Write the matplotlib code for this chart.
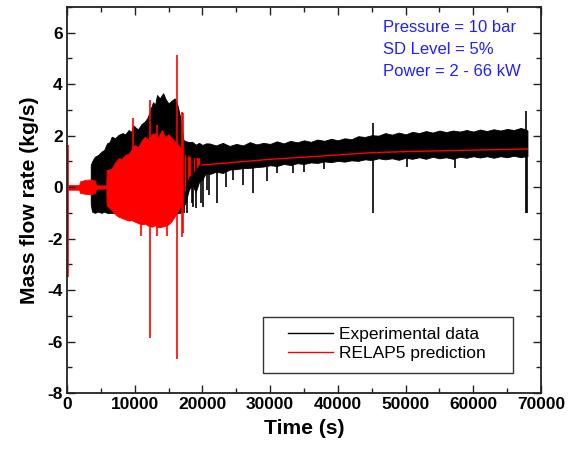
import matplotlib
matplotlib.use("Agg")
import matplotlib.pyplot as plt
from matplotlib.lines import Line2D
from matplotlib.patches import Rectangle

plt.rcParams['font.family'] = ['Liberation Sans', 'DejaVu Sans']
plt.rcParams['axes.unicode_minus'] = False

# ---------------- data ----------------
# Experimental data: oscillation envelope (time, upper, lower)
exp_t = [3500, 3700, 4100, 4600, 5100, 5500, 5900, 6300, 6600, 7100, 7600, 8200,
         8600, 9100, 9500, 9800, 10200, 10500, 11000, 11500, 11900, 12300, 12700,
         13000, 13300, 13700, 14200, 14600, 15000, 15400, 15900, 16300, 16700,
         17000, 17200, 17600, 18000, 18500, 19000, 19500, 20000, 20500, 21000,
         22000, 23000, 24000, 25000, 26000, 27000, 28000, 29000, 30000, 31000,
         32000, 33000, 34000, 35000, 36000, 37000, 38000, 39000, 40000, 41000,
         42000, 43000, 44000, 45000, 46000, 47000, 48000, 49000, 50000, 51000,
         52000, 53000, 54000, 55000, 56000, 57000, 58000, 59000, 60000, 61000,
         62000, 63000, 64000, 65000, 66000, 67000, 67700, 68000]
exp_hi = [0.85, 1.0, 1.18, 1.25, 1.38, 1.45, 1.7, 1.75, 1.96, 1.9, 2.03, 2.1,
          2.05, 2.22, 2.15, 2.4, 2.3, 2.25, 2.45, 2.55, 2.7, 3.0, 3.3,
          3.2, 3.58, 3.45, 3.65, 3.4, 3.25, 3.35, 3.45, 3.2, 2.74,
          2.2, 1.83, 1.78, 1.75, 1.76, 1.65, 1.72, 1.64, 1.7, 1.7,
          1.62, 1.72, 1.6, 1.68, 1.62, 1.75, 1.66, 1.72, 1.68, 1.78,
          1.7, 1.8, 1.74, 1.82, 1.76, 1.85, 1.8, 1.88, 1.82, 1.9,
          1.86, 1.98, 1.95, 2.02, 2.0, 2.1, 2.04, 2.12, 2.05, 2.15,
          2.1, 2.18, 2.12, 2.2, 2.14, 2.2, 2.16, 2.22, 2.16, 2.24,
          2.18, 2.25, 2.2, 2.26, 2.22, 2.3, 2.25, 2.2]
exp_lo = [-0.65, -0.95, -1.0, -0.95, -1.0, -0.95, -1.0, -1.0, -1.0, -1.0, -1.0, -1.0,
          -1.0, -1.0, -1.0, -1.0, -1.0, -1.0, -1.0, -1.0, -1.0, -1.0, -1.0,
          -1.0, -1.0, -1.0, -1.0, -1.0, -1.0, -1.0, -1.0, -1.0, -1.0,
          -0.9, -0.8, -0.5, -0.1, 0.1, -0.2, 0.2, 0.3, 0.55, 0.5,
          0.6, 0.55, 0.68, 0.7, 0.74, 0.75, 0.78, 0.8, 0.85, 0.82,
          0.9, 0.86, 0.93, 0.9, 0.96, 0.94, 1.0, 0.97, 1.02, 0.99,
          1.04, 1.02, 1.08, 1.05, 1.12, 1.08, 1.12, 1.06, 1.14, 1.1,
          1.16, 1.1, 1.18, 1.12, 1.16, 1.1, 1.18, 1.14, 1.2, 1.15,
          1.2, 1.14, 1.2, 1.16, 1.22, 1.16, 1.2, 1.2]
# Experimental spikes (time, low, high)
exp_spk_t = [17300, 17700, 18400, 18650, 19000, 19800, 20040, 20630, 21000, 22100,
             23500, 24560, 26000, 27500, 29500, 30970, 33400, 35000, 38000, 45240,
             50170, 57300, 67800, 67950]
exp_spk_lo = [-1.0, -1.0, -0.6, -0.76, -0.8, -0.6, -0.76, -0.11, -0.3, -0.6,
              0.0, 0.27, 0.1, -0.24, 0.25, 0.55, 0.54, 0.6, 0.7, -1.0,
              0.79, 0.73, -1.0, -1.0]
exp_spk_hi = [1.5, 1.6, 1.6, 1.6, 1.6, 1.6, 1.6, 1.6, 1.6, 1.6,
              1.6, 1.6, 1.6, 1.6, 1.6, 1.7, 1.7, 1.75, 1.8, 2.48,
              2.0, 2.1, 2.97, 2.2]

# RELAP5 prediction: oscillation envelope (time, upper, lower)
rel_t = [0, 1800, 1900, 2700, 3500, 4100, 4300, 5800, 5860, 6600, 7100, 7600,
         8100, 8600, 9100, 9500, 10000, 10500, 11000, 11500, 12000, 12500, 13000,
         13500, 14000, 14500, 15000, 15500, 16000, 16700, 17400, 17900, 18500,
         19600, 19900, 20000]
rel_hi = [0.08, 0.08, 0.22, 0.28, 0.3, 0.26, 0.07, 0.07, 0.66, 0.72, 0.95, 1.12,
          1.1, 1.25, 1.3, 1.45, 1.64, 1.55, 1.8, 1.96, 1.85, 2.05, 2.09,
          1.95, 2.22, 1.95, 2.05, 1.9, 1.75, 1.57, 1.25, 1.2, 1.15,
          1.12, 1.0, 0.88]
rel_lo = [-0.1, -0.1, -0.22, -0.26, -0.28, -0.23, -0.07, -0.05, -0.7, -0.9, -1.05, -1.15,
          -1.2, -1.25, -1.3, -1.28, -1.34, -1.4, -1.45, -1.42, -1.5, -1.54, -1.48,
          -1.56, -1.54, -1.5, -1.45, -1.3, -1.1, -0.76, -0.11, 0.4, 0.55,
          0.93, 0.85, 0.84]
# RELAP5 smooth part after oscillations
rel_line_t = [20000, 30000, 40000, 45000, 50000, 60000, 68000]
rel_line_v = [0.86, 1.08, 1.25, 1.34, 1.38, 1.44, 1.48]
# RELAP5 spikes (time, low, high)
rel_spk_t = [100, 9800, 11000, 12260, 13300, 14700, 16200, 16930, 17100]
rel_spk_lo = [-3.5, 0.0, -1.9, -5.88, -1.9, -1.9, -6.69, -1.93, -1.8]
rel_spk_hi = [1.65, 2.67, 0.0, 3.39, 2.4, 0.0, 5.13, 2.93, 2.89]

legend_labels = ["Experimental data", "RELAP5 prediction"]
info_lines = ["Pressure = 10 bar", "SD Level = 5%", "Power = 2 - 66 kW"]

# ---------------- figure ----------------
fig = plt.figure(figsize=(5.77, 4.53), dpi=100)
ax = fig.add_axes([67/577, 1-393/453, 474/577, 386/453])

ax.fill_between(exp_t, exp_lo, exp_hi, facecolor='black', lw=0.6, edgecolor='black')
ax.vlines(exp_spk_t, exp_spk_lo, exp_spk_hi, color='black', lw=1.2)

ax.fill_between(rel_t, rel_lo, rel_hi, facecolor='red', lw=0.6, edgecolor='red')
ax.vlines(rel_spk_t, rel_spk_lo, rel_spk_hi, color='red', lw=1.2)
ax.plot(rel_line_t, rel_line_v, color='red', lw=1.0)

ax.set_xlim(0, 70000)
ax.set_ylim(-8, 7)
ax.set_xticks(range(0, 70001, 10000))
ax.set_xticks(range(5000, 70000, 10000), minor=True)
ax.set_yticks([-8, -6, -4, -2, 0, 2, 4, 6])
ax.set_yticks([-7, -5, -3, -1, 1, 3, 5, 7], minor=True)
ax.tick_params(which='both', direction='in', top=True, right=True, width=1.0, color='#222222')
ax.tick_params(which='major', length=6)
ax.tick_params(which='minor', length=3.5)
ax.tick_params(labelsize=12.5, pad=3)
for lab in ax.get_xticklabels() + ax.get_yticklabels():
    lab.set_fontweight('bold')
for s in ax.spines.values():
    s.set_linewidth(1.3)
    s.set_color('#222222')

ax.set_xlabel("Time (s)", fontsize=15.2, fontweight='bold', labelpad=5)
ax.set_ylabel("Mass flow rate (kg/s)", fontsize=15.2, fontweight='bold', labelpad=6)

info_y = [0.936, 0.879, 0.822]
for txt, yy in zip(info_lines, info_y):
    ax.text(0.666, yy, txt, transform=ax.transAxes, color='#2020ff', fontsize=12,
            va='baseline', ha='left')

# legend box (frame drawn as a rectangle to match the wide padding)
ax.add_patch(Rectangle((0.4135, 0.051), 0.9409 - 0.4135, 0.1977 - 0.051,
                       transform=ax.transAxes, facecolor='white', edgecolor='#333333',
                       lw=1.0, zorder=4))
handles = [Line2D([], [], color='black', lw=1.0), Line2D([], [], color='red', lw=1.0)]
leg = ax.legend(handles, legend_labels, loc='center left', bbox_to_anchor=(0.4662, 0.127),
                borderaxespad=0, borderpad=0, frameon=False, fontsize=12.5,
                handlelength=2.6, handletextpad=0.35, labelspacing=0.26)
leg.set_zorder(5)

fig.savefig("out.png", dpi=100)
